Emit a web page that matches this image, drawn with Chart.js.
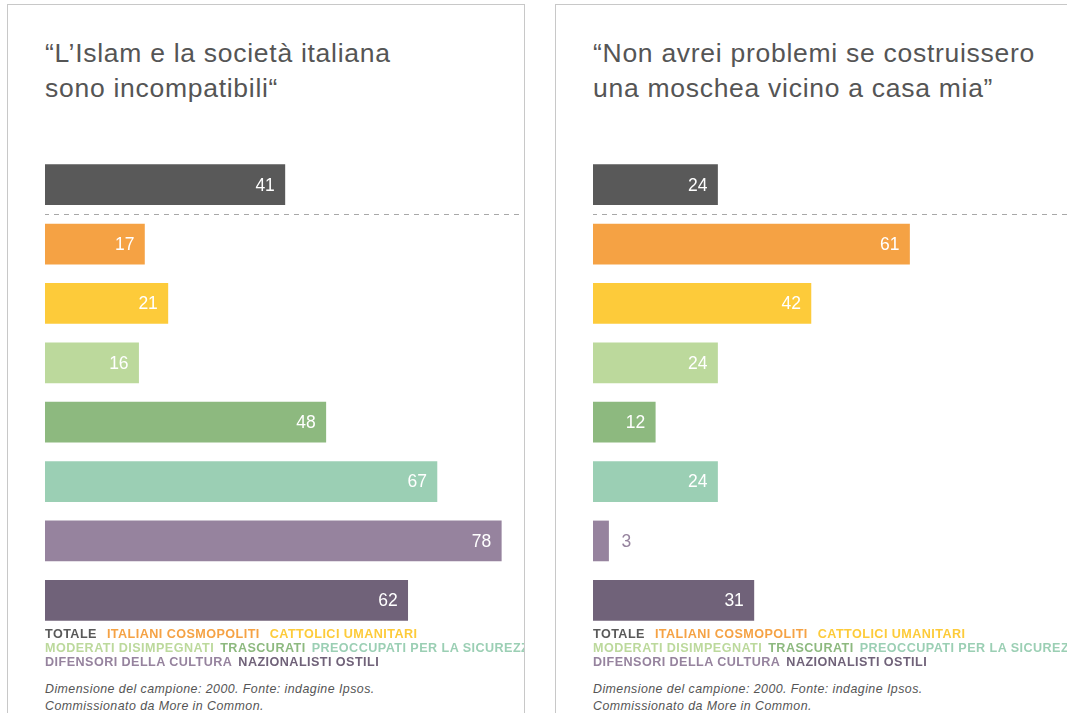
<!DOCTYPE html>
<html><head><meta charset="utf-8">
<script src="https://cdn.jsdelivr.net/npm/chart.js@4"></script>
<style>
html,body{margin:0;padding:0;background:#fff;width:1067px;height:713px;overflow:hidden;font-family:"Liberation Sans",Arial,Helvetica,sans-serif;}
.panel{position:absolute;top:4px;height:760px;border:1px solid #c8c8c8;background:#fff;overflow:hidden;box-sizing:border-box;}
.title{position:absolute;left:37px;top:31px;font-size:26.5px;line-height:35px;color:#555;white-space:nowrap;letter-spacing:0.72px;}
.cw{position:absolute;}
.legend{position:absolute;left:37px;top:622px;font-size:12.6px;line-height:14px;font-weight:bold;white-space:nowrap;letter-spacing:0.45px;}
.legend span{margin-right:6px;}
.legend div.r0 span{margin-right:10px;}
.note{position:absolute;left:37px;top:676px;font-size:12.4px;line-height:16.5px;font-style:italic;color:#555;white-space:nowrap;letter-spacing:0.45px;}
</style></head>
<body>
<div class="panel" id="p1" style="left:7px;width:518px;">
  <div class="title">“L’Islam e la società italiana<br>sono incompatibili“</div>
  <div class="cw" style="left:37px;top:150px;width:479px;height:475px;"><canvas id="c1"></canvas></div>
  <div class="legend" id="l1"></div>
  <div class="note">Dimensione del campione: 2000. Fonte: indagine Ipsos.<br>Commissionato da More in Common.</div>
</div>
<div class="panel" id="p2" style="left:555px;width:560px;">
  <div class="title">“Non avrei problemi se costruissero<br>una moschea vicino a casa mia”</div>
  <div class="cw" style="left:37px;top:150px;width:475px;height:475px;"><canvas id="c2"></canvas></div>
  <div class="legend" id="l2"></div>
  <div class="note">Dimensione del campione: 2000. Fonte: indagine Ipsos.<br>Commissionato da More in Common.</div>
</div>
<script>
const categories = ["TOTALE","ITALIANI COSMOPOLITI","CATTOLICI UMANITARI","MODERATI DISIMPEGNATI","TRASCURATI","PREOCCUPATI PER LA SICUREZZA","DIFENSORI DELLA CULTURA","NAZIONALISTI OSTILI"];
const colors = ["#595959","#f5a244","#fdcb3a","#bcd99c","#8db97f","#9bcfb4","#96839e","#706279"];
const islamIncompatibile = [41,17,21,16,48,67,78,62];
const moscheaVicino = [24,61,42,24,12,24,3,31];
const legendRows = [[0,1,2],[3,4,5],[6,7]];

function buildLegend(id){
  const el=document.getElementById(id);
  el.innerHTML = legendRows.map((r,k)=>'<div class="r'+k+'">'+r.map(i=>'<span style="color:'+colors[i]+'">'+categories[i]+'</span>').join('')+'</div>').join('');
}
buildLegend('l1'); buildLegend('l2');

const extras = {
  id:'extras',
  afterDatasetsDraw(chart){
    const ctx=chart.ctx, meta=chart.getDatasetMeta(0), ys=chart.scales.y, area=chart.chartArea;
    const yy = Math.round((ys.getPixelForValue(0)+ys.getPixelForValue(1))/2)+0.5;
    ctx.save();
    ctx.strokeStyle='#a8a8a8'; ctx.lineWidth=1; ctx.setLineDash([5,5]);
    ctx.beginPath(); ctx.moveTo(area.left-1,yy); ctx.lineTo(chart.width,yy); ctx.stroke();
    ctx.setLineDash([]);
    ctx.font='17.5px "Liberation Sans", Arial, sans-serif';
    ctx.textBaseline='middle';
    const data=chart.data.datasets[0].data;
    meta.data.forEach((bar,i)=>{
      const v=data[i];
      if(v>=8){ ctx.fillStyle='#fff'; ctx.textAlign='right'; ctx.fillText(String(v), bar.x-10, bar.y+1); }
      else { ctx.fillStyle=colors[i]; ctx.textAlign='left'; ctx.fillText(String(v), bar.x+13, bar.y+1); }
    });
    ctx.restore();
  }
};

function make(id, values, max, padRight){
  new Chart(document.getElementById(id),{
    type:'bar',
    data:{labels:categories,datasets:[{data:values,backgroundColor:colors,barThickness:40,borderWidth:0}]},
    options:{
      indexAxis:'y',responsive:true,maintainAspectRatio:false,animation:false,
      layout:{padding:{left:0,right:padRight,top:0,bottom:0}},
      plugins:{legend:{display:false},tooltip:{enabled:false}},
      scales:{
        x:{display:false,min:0,max:max},
        y:{display:false}
      }
    },
    plugins:[extras]
  });
}
make('c1', islamIncompatibile, 80, 11);
make('c2', moscheaVicino, 90, 8);
</script>
</body></html>
